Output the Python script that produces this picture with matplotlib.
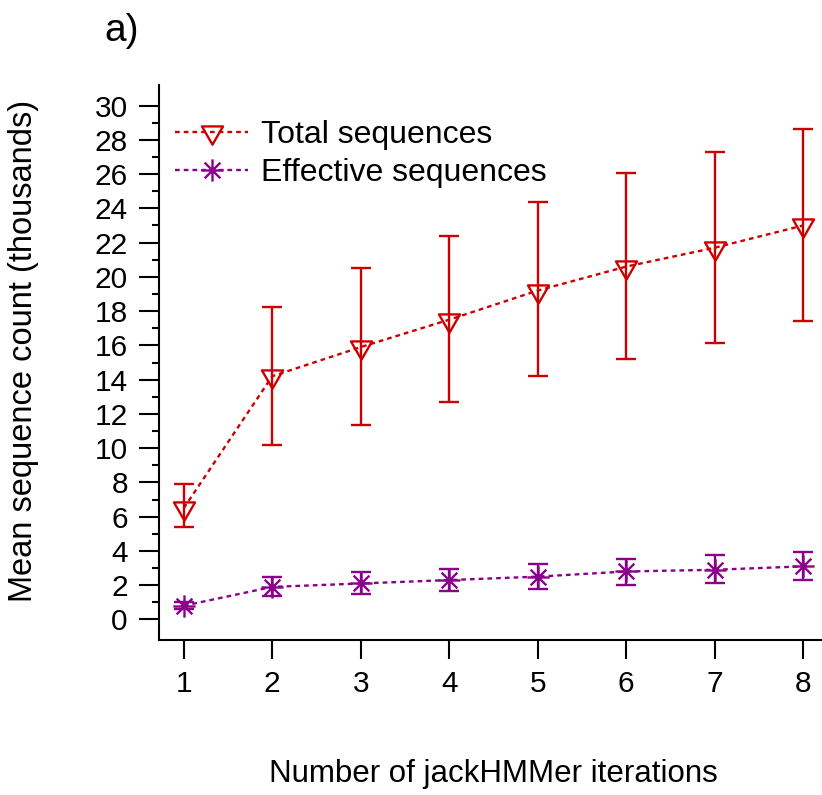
import matplotlib
matplotlib.use("Agg")
import matplotlib.pyplot as plt
import numpy as np
from matplotlib.path import Path
from matplotlib.lines import Line2D

plt.rcParams['font.family'] = ['Liberation Sans', 'DejaVu Sans']

# ---- data (thousands) ----
iterations = [1, 2, 3, 4, 5, 6, 7, 8]
total_mean = [6.5, 14.2, 15.9, 17.5, 19.2, 20.6, 21.7, 23.0]
total_low = [5.4, 10.2, 11.35, 12.7, 14.2, 15.2, 16.15, 17.45]
total_high = [7.9, 18.25, 20.5, 22.4, 24.35, 26.05, 27.3, 28.65]
eff_mean = [0.8, 1.9, 2.1, 2.3, 2.5, 2.8, 2.9, 3.1]
eff_low = [0.6, 1.35, 1.5, 1.65, 1.8, 2.0, 2.1, 2.3]
eff_high = [1.0, 2.45, 2.75, 2.95, 3.25, 3.55, 3.75, 3.95]
legend_labels = ["Total sequences", "Effective sequences"]
xlabel = "Number of jackHMMer iterations"
ylabel = "Mean sequence count (thousands)"
panel_label = "a)"

RED = "#CD0000"
PURPLE = "#8B008B"

# R-like markers
tri_down = Path([(0, -1), (0.866, 0.5), (-0.866, 0.5), (0, -1)],
                [Path.MOVETO, Path.LINETO, Path.LINETO, Path.CLOSEPOLY])
c = 0.7071
asterisk = Path([(-1, 0), (1, 0), (0, -1), (0, 1),
                 (-c, -c), (c, c), (-c, c), (c, -c)],
                [Path.MOVETO, Path.LINETO] * 4)

W, H = 822, 795
fig = plt.figure(figsize=(W / 100, H / 100), dpi=100)
ax = fig.add_axes([159 / W, (H - 640) / H, (828 - 159) / W, (640 - 85) / H])

lw = 1.7
x = np.array(iterations)
TRI_MS = 17.5
AST_MS = 16

def draw(mean, low, high, color, marker, ms):
    mean = np.array(mean); low = np.array(low); high = np.array(high)
    ax.errorbar(x, mean, yerr=[mean - low, high - mean], fmt='none',
                ecolor=color, elinewidth=lw, capsize=7.5, capthick=lw, zorder=2)
    ax.plot(x, mean, color=color, lw=lw, dashes=(2.0, 1.7), zorder=3)
    ax.plot(x, mean, linestyle='none', marker=marker, ms=ms, mfc='none',
            mec=color, mew=lw, zorder=4)

draw(total_mean, total_low, total_high, RED, tri_down, TRI_MS)
draw(eff_mean, eff_low, eff_high, PURPLE, asterisk, AST_MS)

ax.set_xlim(0.72, 8.28)
ax.set_ylim(-1.2, 31.2)
for s in ['top', 'right']:
    ax.spines[s].set_visible(False)
for s in ['left', 'bottom']:
    ax.spines[s].set_linewidth(1.5)

ax.set_xticks(iterations)
ax.set_yticks(np.arange(0, 31, 2))
ax.set_yticks(np.arange(1, 30, 2), minor=True)
ax.tick_params(axis='x', which='major', length=13.5, width=1.5, pad=8, labelsize=21.5)
ax.tick_params(axis='y', which='major', length=14.5, width=1.5, pad=8, labelsize=21.5)
ax.tick_params(axis='y', which='minor', length=5, width=1.5)

ax.set_xlabel(xlabel, fontsize=22.5)
ax.xaxis.set_label_coords(0.5, -0.215)
ax.set_ylabel(ylabel, fontsize=23.5)
ax.yaxis.set_label_coords(-0.18, 0.52)

handles = [
    Line2D([], [], color=RED, lw=lw, dashes=(2.0, 1.7), marker=tri_down, ms=TRI_MS,
           mfc='none', mec=RED, mew=lw),
    Line2D([], [], color=PURPLE, lw=lw, dashes=(2.0, 1.7), marker=asterisk, ms=AST_MS,
           mfc='none', mec=PURPLE, mew=lw),
]
ax.legend(handles, legend_labels, loc='upper left',
          bbox_to_anchor=(175 / W, 1 - 120 / H), bbox_transform=fig.transFigure,
          frameon=False, fontsize=23, borderpad=0, borderaxespad=0,
          handlelength=2.3, handletextpad=0.4, labelspacing=0.25, numpoints=1)

fig.text(104 / W, 1 - 41 / H, panel_label, fontsize=28, ha='left', va='baseline')

fig.savefig("out.png", dpi=100)
